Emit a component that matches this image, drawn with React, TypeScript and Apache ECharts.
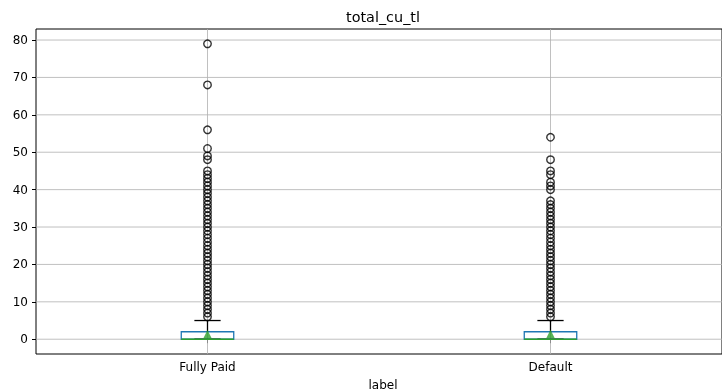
import React, { useEffect, useRef } from "react";
import * as echarts from "echarts";

const categories = ["Fully Paid", "Default"];
const whiskerLow = [0, 0];
const q1 = [0, 0];
const medians = [0, 0];
const q3 = [2, 2];
const whiskerHigh = [5, 5];
const means = [1.3, 1.4];
const yTicks = [0, 10, 20, 30, 40, 50, 60, 70, 80];

const fullyPaidOutliers = [
  6, 7, 8, 9, 10, 11, 12, 13, 14, 15, 16, 17, 18, 19, 20, 21, 22, 23, 24, 25,
  26, 27, 28, 29, 30, 31, 32, 33, 34, 35, 36, 37, 38, 39, 40, 41, 42, 43, 44, 45,
  48, 49, 51, 56, 68, 79,
];
const defaultOutliers = [
  6, 7, 8, 9, 10, 11, 12, 13, 14, 15, 16, 17, 18, 19, 20, 21, 22, 23, 24, 25,
  26, 27, 28, 29, 30, 31, 32, 33, 34, 35, 36, 37, 40, 41, 42, 44, 45, 48, 54,
];

const Y_MIN = -3.95;
const Y_MAX = 82.95;
const GRID_COLOR = "#b0b0b0";
const FONT = "DejaVu Sans";

export default function App() {
  const ref = useRef<HTMLDivElement>(null);

  useEffect(() => {
    if (!ref.current) return;
    const chart = echarts.init(ref.current, null, { renderer: "svg" });

    const boxData = categories.map((_, i) => [
      i,
      q1[i],
      medians[i],
      q3[i],
      whiskerLow[i],
      whiskerHigh[i],
    ]);
    const outlierData: number[][] = [];
    fullyPaidOutliers.forEach((v) => outlierData.push([0, v]));
    defaultOutliers.forEach((v) => outlierData.push([1, v]));
    const meanData = means.map((m, i) => [i, m]);

    const option: any = {
      animation: false,
      grid: {
        left: 36,
        top: 29,
        width: 694,
        height: 325,
        show: true,
        borderColor: "#000",
        borderWidth: 1,
        backgroundColor: "transparent",
      },
      graphic: [
        {
          type: "text",
          x: 383,
          y: 17,
          style: {
            text: "total_cu_tl",
            font: `14.4px "${FONT}"`,
            fill: "#000",
            textAlign: "center",
            textVerticalAlign: "middle",
          },
        },
        {
          type: "text",
          x: 383,
          y: 385,
          style: {
            text: "label",
            font: `12px "${FONT}"`,
            fill: "#000",
            textAlign: "center",
            textVerticalAlign: "middle",
          },
        },
      ],
      xAxis: {
        type: "category",
        data: categories,
        boundaryGap: true,
        axisLine: { show: false },
        axisTick: {
          show: true,
          alignWithLabel: true,
          length: 4,
          lineStyle: { color: "#000", width: 1 },
        },
        axisLabel: {
          color: "#000",
          fontFamily: FONT,
          fontSize: 12,
          margin: 7,
        },
        splitLine: { show: false },
      },
      yAxis: {
        type: "value",
        min: Y_MIN,
        max: Y_MAX,
        axisLine: { show: false },
        axisTick: {
          show: true,
          length: 4,
          customValues: yTicks,
          lineStyle: { color: "#000", width: 1 },
        },
        axisLabel: {
          color: "#000",
          fontFamily: FONT,
          fontSize: 12,
          margin: 8,
          customValues: yTicks,
        },
        splitLine: { show: false },
      },
      series: [
        {
          type: "custom",
          z: 1,
          silent: true,
          data: yTicks.map((t) => [0, t]),
          encode: { x: 0, y: 1 },
          renderItem: (params: any, api: any) => {
            const cs = params.coordSys;
            const p = api.coord([0, api.value(1)]);
            return {
              type: "line",
              shape: { x1: cs.x, y1: p[1], x2: cs.x + cs.width, y2: p[1] },
              style: { stroke: GRID_COLOR, lineWidth: 0.8 },
            };
          },
        },
        {
          type: "custom",
          z: 1,
          silent: true,
          data: categories.map((_, i) => [i, 0]),
          encode: { x: 0, y: 1 },
          renderItem: (params: any, api: any) => {
            const cs = params.coordSys;
            const p = api.coord([api.value(0), 0]);
            return {
              type: "line",
              shape: { x1: p[0], y1: cs.y, x2: p[0], y2: cs.y + cs.height },
              style: { stroke: GRID_COLOR, lineWidth: 0.8 },
            };
          },
        },
        {
          type: "custom",
          z: 2,
          silent: true,
          data: boxData,
          encode: { x: 0, y: [1, 2, 3, 4, 5] },
          renderItem: (params: any, api: any) => {
            const idx = api.value(0);
            const band = api.size([1, 0])[0];
            const half = (band * 0.153) / 2;
            const capHalf = half / 2;
            const pQ1 = api.coord([idx, api.value(1)]);
            const pMed = api.coord([idx, api.value(2)]);
            const pQ3 = api.coord([idx, api.value(3)]);
            const pLo = api.coord([idx, api.value(4)]);
            const pHi = api.coord([idx, api.value(5)]);
            const cx = pQ1[0];
            const black = { stroke: "#000", lineWidth: 1.3 };
            return {
              type: "group",
              children: [
                {
                  type: "rect",
                  shape: {
                    x: cx - half,
                    y: pQ3[1],
                    width: half * 2,
                    height: pQ1[1] - pQ3[1],
                  },
                  style: { fill: "none", stroke: "#1f77b4", lineWidth: 1.3 },
                },
                {
                  type: "line",
                  shape: { x1: cx, y1: pQ3[1], x2: cx, y2: pHi[1] },
                  style: black,
                },
                {
                  type: "line",
                  shape: { x1: cx, y1: pQ1[1], x2: cx, y2: pLo[1] },
                  style: black,
                },
                {
                  type: "line",
                  shape: { x1: cx - capHalf, y1: pHi[1], x2: cx + capHalf, y2: pHi[1] },
                  style: black,
                },
                {
                  type: "line",
                  shape: { x1: cx - capHalf, y1: pLo[1], x2: cx + capHalf, y2: pLo[1] },
                  style: black,
                },
                {
                  type: "line",
                  shape: { x1: cx - half, y1: pMed[1], x2: cx + half, y2: pMed[1] },
                  style: { stroke: "#2ca02c", lineWidth: 1.3 },
                },
              ],
            };
          },
        },
        {
          type: "scatter",
          z: 3,
          silent: true,
          data: outlierData,
          symbol: "circle",
          symbolSize: 7.5,
          itemStyle: {
            color: "rgba(0,0,0,0)",
            borderColor: "#000",
            borderWidth: 1.4,
          },
        },
        {
          type: "scatter",
          z: 4,
          silent: true,
          data: meanData,
          symbol: "triangle",
          symbolSize: 8.5,
          itemStyle: { color: "#2ca02c" },
        },
      ],
    };

    chart.setOption(option);
    return () => chart.dispose();
  }, []);

  return (
    <div
      ref={ref}
      style={{ position: "fixed", left: 0, top: 0, width: 722, height: 392 }}
    />
  );
}
